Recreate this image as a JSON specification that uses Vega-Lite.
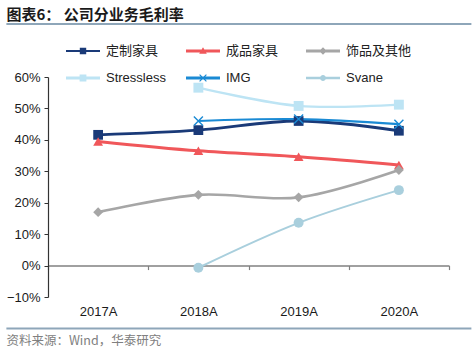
{
  "$schema": "https://vega.github.io/schema/vega-lite/v6.json",
  "autosize": {"type": "none"},
  "padding": {"left": 48, "top": 77, "right": 426, "bottom": 277},
  "background": "white",
  "title": {
    "text": "图表6：  公司分业务毛利率",
    "anchor": "start",
    "frame": "bounds",
    "font": "Noto Sans CJK SC",
    "fontSize": 15,
    "fontWeight": "bold",
    "color": "#1a1a1a",
    "offset": -8,
    "dy": -16,
    "encode": {"group": {"update": {"stroke": {"value": "#8ea6b9"}, "strokeWidth": {"value": 2}, "width": {"value": 465}, "height": {"value": 0}}}}
  },
  "vconcat": [
    {
      "width": 401,
      "height": 220,
      "title": {
        "text": "资料来源：Wind，华泰研究",
        "orient": "bottom",
        "anchor": "start",
        "frame": "bounds",
        "font": "Noto Sans CJK SC",
        "fontSize": 12.5,
        "fontWeight": "normal",
        "color": "#808080",
        "offset": 10,
        "dy": 6,
        "encode": {"group": {"update": {"stroke": {"value": "#8ea6b9"}, "strokeWidth": {"value": 2}, "width": {"value": 465}, "height": {"value": 0}}}}
      },
      "data": {
        "values": [
          {"series": "定制家具", "year": "2017A", "value": 0.416},
          {"series": "定制家具", "year": "2018A", "value": 0.431},
          {"series": "定制家具", "year": "2019A", "value": 0.460},
          {"series": "定制家具", "year": "2020A", "value": 0.429},
          {"series": "成品家具", "year": "2017A", "value": 0.395},
          {"series": "成品家具", "year": "2018A", "value": 0.365},
          {"series": "成品家具", "year": "2019A", "value": 0.346},
          {"series": "成品家具", "year": "2020A", "value": 0.320},
          {"series": "饰品及其他", "year": "2017A", "value": 0.170},
          {"series": "饰品及其他", "year": "2018A", "value": 0.225},
          {"series": "饰品及其他", "year": "2019A", "value": 0.217},
          {"series": "饰品及其他", "year": "2020A", "value": 0.304},
          {"series": "Stressless", "year": "2018A", "value": 0.566},
          {"series": "Stressless", "year": "2019A", "value": 0.508},
          {"series": "Stressless", "year": "2020A", "value": 0.512},
          {"series": "IMG", "year": "2018A", "value": 0.460},
          {"series": "IMG", "year": "2019A", "value": 0.466},
          {"series": "IMG", "year": "2020A", "value": 0.450},
          {"series": "Svane", "year": "2018A", "value": -0.007},
          {"series": "Svane", "year": "2019A", "value": 0.136},
          {"series": "Svane", "year": "2020A", "value": 0.240}
        ]
      },
      "encoding": {
        "x": {
          "field": "year",
          "type": "ordinal",
          "scale": {"type": "band", "paddingInner": 0, "paddingOuter": 0},
          "axis": {
            "title": null,
            "offset": -31.43,
            "labelAngle": 0,
            "labelPadding": 36,
            "labelFont": "Liberation Sans",
            "labelFontSize": 13,
            "labelColor": "#1a1a1a",
            "tickBand": "extent",
            "tickSize": 4,
            "tickColor": "#808080",
            "domainColor": "#808080",
            "domainWidth": 1.5,
            "tickWidth": 1.2
          }
        },
        "y": {
          "field": "value",
          "type": "quantitative",
          "scale": {"domain": [-0.1, 0.6], "nice": false, "zero": false},
          "axis": {
            "title": null,
            "values": [-0.1, 0, 0.1, 0.2, 0.3, 0.4, 0.5, 0.6],
            "format": ".0%",
            "grid": false,
            "labelFont": "Liberation Sans",
            "labelFontSize": 13,
            "labelColor": "#1a1a1a",
            "labelPadding": 4,
            "tickSize": 4,
            "tickColor": "#333333",
            "domainColor": "#333333",
            "domainWidth": 1.2
          }
        },
        "color": {
          "field": "series",
          "type": "nominal",
          "scale": {
            "domain": ["定制家具", "成品家具", "饰品及其他", "Stressless", "IMG", "Svane"],
            "range": ["#1a3a78", "#f0575a", "#a6a6a6", "#bde4f4", "#1a8ad4", "#a9cfdd"]
          },
          "legend": {
            "title": null,
            "orient": "none",
            "direction": "horizontal",
            "legendX": 15,
            "legendY": -46,
            "columns": 3,
            "gridAlign": "all",
            "columnPadding": 11,
            "rowPadding": -12,
            "padding": 0,
            "symbolSize": 1600,
            "labelOffset": 3,
            "labelFont": "Liberation Sans, Noto Sans CJK SC",
            "labelFontSize": 13,
            "labelColor": "#222222",
            "encoding": {
              "symbols": {
                "strokeWidth": {"value": 0},
                "shape": {"value": {"signal": "datum.value === '定制家具' ? 'M-0.85,-0.05H0.85V0.05H-0.85Z M-0.16,-0.16H0.16V0.16H-0.16Z' : datum.value === '成品家具' ? 'M-0.85,-0.07H0.85V0.07H-0.85Z M0,-0.19L0.19,0.14H-0.19Z' : datum.value === '饰品及其他' ? 'M-0.85,-0.07H0.85V0.07H-0.85Z M0,-0.19L0.19,0L0,0.19L-0.19,0Z' : datum.value === 'Stressless' ? 'M-0.85,-0.08H0.85V0.08H-0.85Z M-0.17,-0.17H0.17V0.17H-0.17Z' : datum.value === 'IMG' ? 'M-0.85,-0.08H0.85V0.08H-0.85Z M-0.19,-0.15L-0.15,-0.19L0.19,0.15L0.15,0.19Z M-0.15,0.19L-0.19,0.15L0.15,-0.19L0.19,-0.15Z' : 'M-0.85,-0.06H0.85V0.06H-0.85Z M-0.15,0A0.15,0.15,0,1,1,0.15,0A0.15,0.15,0,1,1,-0.15,0Z'"}}
              }
            }
          }
        }
      },
      "layer": [
        {
          "mark": {"type": "line", "interpolate": "catmull-rom"},
          "encoding": {
            "strokeWidth": {
              "field": "series",
              "type": "nominal",
              "scale": {
                "domain": ["成品家具", "定制家具", "饰品及其他", "Stressless", "IMG", "Svane"],
                "range": [3, 2, 3, 3, 3, 2.5]
              },
              "legend": null
            }
          }
        },
        {
          "mark": {"type": "point", "filled": true, "opacity": 1},
          "encoding": {
            "size": {
              "field": "series",
              "type": "nominal",
              "scale": {
                "domain": ["定制家具", "成品家具", "饰品及其他", "Stressless", "Svane", "IMG"],
                "range": [95, 100, 150, 110, 120, 100]
              },
              "legend": null
            },
            "shape": {
              "field": "series",
              "type": "nominal",
              "scale": {
                "domain": ["Svane", "IMG", "Stressless", "饰品及其他", "成品家具", "定制家具"],
                "range": ["circle", "M-1,-0.8L-0.8,-1L1,0.8L0.8,1Z M-0.8,1L-1,0.8L0.8,-1L1,-0.8Z", "square", "diamond", "triangle-up", "square"]
              },
              "legend": null
            }
          }
        }
      ]
    }
  ],
  "config": {"view": {"stroke": null}, "concat": {"spacing": 0}}
}
